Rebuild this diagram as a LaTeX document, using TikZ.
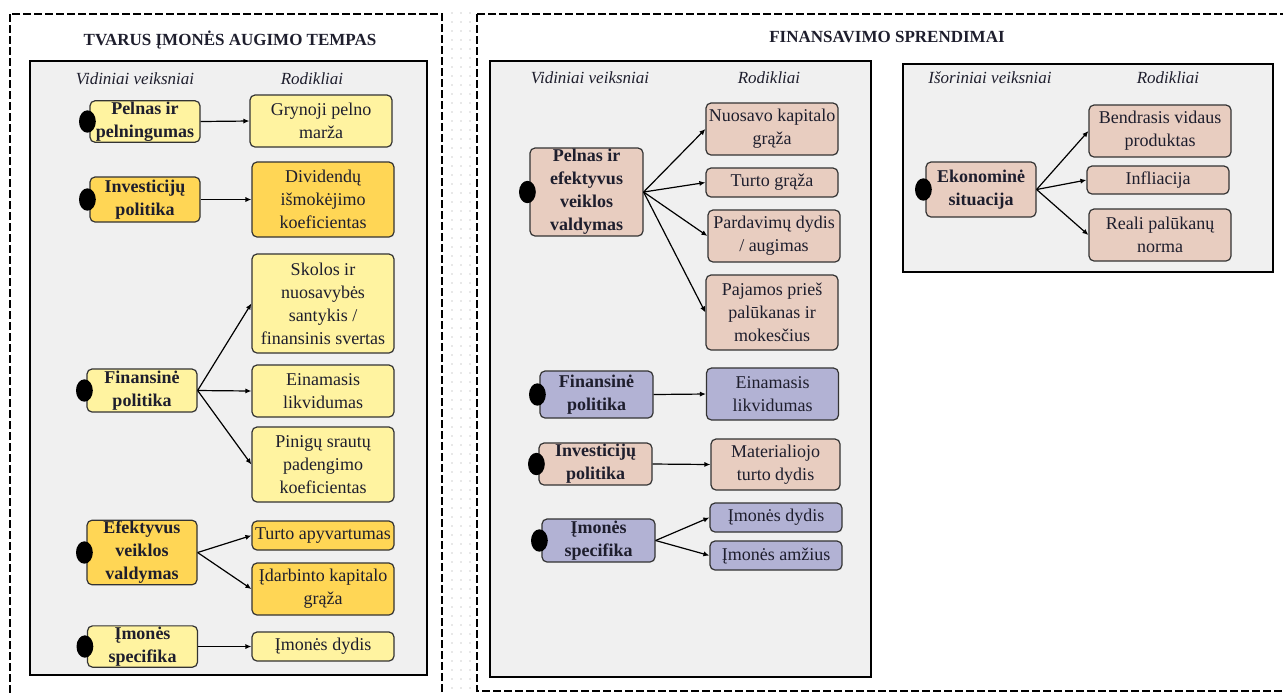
\documentclass[tikz,border=0pt]{standalone}
\usepackage{fontspec}
\setmainfont{Liberation Serif}
\usetikzlibrary{arrows.meta}
\definecolor{geltona}{RGB}{255,243,160}
\definecolor{auksine}{RGB}{255,214,85}
\definecolor{rausva}{RGB}{232,205,192}
\definecolor{melsva}{RGB}{178,178,212}
\definecolor{pilka}{RGB}{240,240,240}
\definecolor{tekstas}{RGB}{30,30,45}

\begin{document}
\begin{tikzpicture}[x=0.5pt,y=-0.5pt,
		remas/.style={dash pattern=on 4pt off 1.5pt, line width=1pt},
		fonas/.style={draw=black, fill=pilka, line width=1.2pt},
		antraste/.style={font=\fontsize{8.5}{10}\selectfont\bfseries, text=tekstas},
		stulpelis/.style={font=\fontsize{8.5}{10}\selectfont\itshape, text=tekstas},
		veiksnys/.style={draw=black!80, rounded corners=2.5pt, line width=0.6pt, align=center, inner sep=0.5pt, minimum width=55pt, font=\fontsize{9}{11.5}\selectfont\bfseries, text=tekstas},
		rodiklis/.style={draw=black!80, rounded corners=2.5pt, line width=0.6pt, align=center, inner sep=0.5pt, minimum width=71pt, font=\fontsize{9}{11.5}\selectfont, text=tekstas},
		rodykle/.style={-{Latex[length=3pt,width=2.6pt]}, line width=0.6pt}]
			\clip (0,0) rectangle (1283,693);
			\def\lfx{145}
			\def\lrx{323}
			\foreach \gx in {452,461,470}
				\foreach \gy in {13,22,...,693}
					\fill[black!18] (\gx,\gy) circle (0.45pt);
			\draw[remas] (10,14) rectangle (442,720);
			\draw[remas] (477,14) rectangle (1300,691);
			\draw[fonas] (30,61) rectangle (427,675);
			\draw[fonas] (490,61) rectangle (871,677);
			\draw[fonas] (903,64) rectangle (1273,272);
			\node[antraste] (tvarus) at (230,40) {TVARUS ĮMONĖS AUGIMO TEMPAS};
			\node[antraste] (finans) at (887,37) {FINANSAVIMO SPRENDIMAI};
			\node[stulpelis] (vid1) at (135,79) {Vidiniai veiksniai};
			\node[stulpelis] (rod1) at (312,79) {Rodikliai};
			\node[stulpelis] (vid2) at (590,78) {Vidiniai veiksniai};
			\node[stulpelis] (rod2) at (769,78) {Rodikliai};
			\node[stulpelis] (isor) at (990,78) {Išoriniai veiksniai};
			\node[stulpelis] (rod3) at (1168,78) {Rodikliai};
			% kairysis blokas
			\node[veiksnys, fill=geltona, minimum height=20.5pt] (pelnas) at (\lfx,121.5) {Pelnas ir\\pelningumas};
			\node[veiksnys, fill=auksine, minimum height=22.5pt] (invest) at (\lfx,199.5) {Investicijų\\politika};
			\node[veiksnys, fill=geltona, minimum height=21.5pt] (finpol) at (142,390.5) {Finansinė\\politika};
			\node[veiksnys, fill=auksine, minimum height=31.5pt] (efekt) at (142,552.5) {Efektyvus\\veiklos\\valdymas};
			\node[veiksnys, fill=geltona, minimum height=19.5pt] (specif) at (142.5,646.5) {Įmonės\\specifika};
			\node[rodiklis, fill=geltona, minimum height=26pt] (grynoji) at (321,121) {Grynoji pelno\\marža};
			\node[rodiklis, fill=auksine, minimum height=37.5pt] (divid) at (\lrx,199.5) {Dividendų\\išmokėjimo\\koeficientas};
			\node[rodiklis, fill=geltona, minimum height=49.5pt] (skolos) at (\lrx,303.5) {Skolos ir\\nuosavybės\\santykis /\\finansinis svertas};
			\node[rodiklis, fill=geltona, minimum height=26pt] (einam1) at (\lrx,391) {Einamasis\\likvidumas};
			\node[rodiklis, fill=geltona, minimum height=37.5pt] (pinigu) at (\lrx,464.5) {Pinigų srautų\\padengimo\\koeficientas};
			\node[rodiklis, fill=auksine, minimum height=14.5pt] (apyvart) at (\lrx,535.5) {Turto apyvartumas};
			\node[rodiklis, fill=auksine, minimum height=26pt] (idarb) at (\lrx,589) {Įdarbinto kapitalo\\grąža};
			\node[rodiklis, fill=geltona, minimum height=14.5pt] (dydis1) at (\lrx,646.5) {Įmonės dydis};
			% vidurinis blokas
			\node[veiksnys, fill=rausva, minimum width=56.5pt, minimum height=44pt] (pelnas2) at (586.5,192) {Pelnas ir\\efektyvus\\veiklos\\valdymas};
			\node[veiksnys, fill=melsva, minimum width=56.5pt, minimum height=23.5pt] (finpol2) at (596.5,394.5) {Finansinė\\politika};
			\node[veiksnys, fill=rausva, minimum width=56.5pt, minimum height=21pt] (invest2) at (595.5,464) {Investicijų\\politika};
			\node[veiksnys, fill=melsva, minimum width=56.5pt, minimum height=21.5pt] (specif2) at (598.5,540.5) {Įmonės\\specifika};
			\node[rodiklis, fill=rausva, minimum width=66pt, minimum height=26pt] (nuosavo) at (772,129) {Nuosavo kapitalo\\grąža};
			\node[rodiklis, fill=rausva, minimum width=66pt, minimum height=14.5pt] (turtog) at (772,182.5) {Turto grąža};
			\node[rodiklis, fill=rausva, minimum width=66pt, minimum height=26pt] (pardav) at (774,236) {Pardavimų dydis\\/ augimas};
			\node[rodiklis, fill=rausva, minimum width=66pt, minimum height=37.5pt] (pajamos) at (772,312.5) {Pajamos prieš\\palūkanas ir\\mokesčius};
			\node[rodiklis, fill=melsva, minimum width=66pt, minimum height=26pt] (einam2) at (772.5,394) {Einamasis\\likvidumas};
			\node[rodiklis, fill=rausva, minimum width=64.5pt, minimum height=25.5pt] (mater) at (775.5,464.5) {Materialiojo\\turto dydis};
			\node[rodiklis, fill=melsva, minimum width=66pt, minimum height=14.5pt] (dydis2) at (776,517.5) {Įmonės dydis};
			\node[rodiklis, fill=melsva, minimum width=66pt, minimum height=14.5pt] (amzius) at (776,555.5) {Įmonės amžius};
			% desinysis blokas
			\node[veiksnys, fill=rausva, minimum height=27.5pt] (ekon) at (981,189.5) {Ekonominė\\situacija};
			\node[rodiklis, fill=rausva, minimum height=26pt] (bvp) at (1160,131) {Bendrasis vidaus\\produktas};
			\node[rodiklis, fill=rausva, minimum height=14pt] (infl) at (1158,180) {Infliacija};
			\node[rodiklis, fill=rausva, minimum height=26pt] (paluk) at (1160,235) {Reali palūkanų\\norma};
			\foreach \v in {pelnas,invest,finpol,efekt,specif,pelnas2,finpol2,invest2,specif2,ekon}
				\fill ([xshift=-1pt]\v.west) ellipse (4.2pt and 5.6pt);
			\draw[rodykle] (pelnas.east) -- (grynoji.west);
			\draw[rodykle] (invest.east) -- (divid.west);
			\draw[rodykle] (finpol.east) -- (skolos.west);
			\draw[rodykle] (finpol.east) -- (einam1.west);
			\draw[rodykle] (finpol.east) -- (pinigu.west);
			\draw[rodykle] (efekt.east) -- (apyvart.west);
			\draw[rodykle] (efekt.east) -- (idarb.west);
			\draw[rodykle] (specif.east) -- (dydis1.west);
			\draw[rodykle] (pelnas2.east) -- (nuosavo.west);
			\draw[rodykle] (pelnas2.east) -- (turtog.west);
			\draw[rodykle] (pelnas2.east) -- (pardav.west);
			\draw[rodykle] (pelnas2.east) -- (pajamos.west);
			\draw[rodykle] (finpol2.east) -- (einam2.west);
			\draw[rodykle] (invest2.east) -- (mater.west);
			\draw[rodykle] (specif2.east) -- (dydis2.west);
			\draw[rodykle] (specif2.east) -- (amzius.west);
			\draw[rodykle] (ekon.east) -- (bvp.west);
			\draw[rodykle] (ekon.east) -- (infl.west);
			\draw[rodykle] (ekon.east) -- (paluk.west);
		\end{tikzpicture}
\end{document}
